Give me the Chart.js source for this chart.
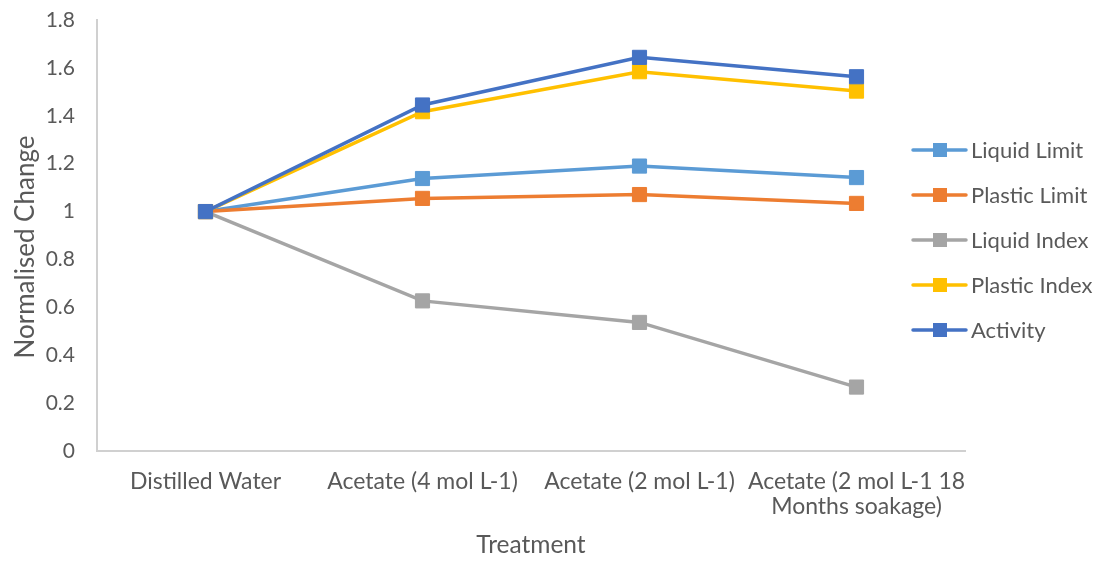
<!DOCTYPE html>
<html>
<head>
<meta charset="utf-8">
<title>Normalised Change by Treatment</title>
<script src="https://cdn.jsdelivr.net/npm/chart.js@4"></script>
<style>
  html, body { margin: 0; padding: 0; background: #ffffff; }
  #wrap { width: 1099px; height: 561px; position: relative; }
</style>
</head>
<body>
<div id="wrap"><canvas id="chart" width="1099" height="561"></canvas></div>
<script>
// Treatments along the x axis (the last one wraps onto two lines)
const categories = [
  'Distilled Water',
  'Acetate (4 mol L-1)',
  'Acetate (2 mol L-1)',
  ['Acetate (2 mol L-1 18', 'Months soakage)']
];

// Normalised values per soil property
const liquidLimit  = [1, 1.138, 1.190, 1.142];
const plasticLimit = [1, 1.055, 1.071, 1.034];
const liquidIndex  = [1, 0.627, 0.537, 0.267];
const plasticIndex = [1, 1.417, 1.584, 1.503];
const activity     = [1, 1.445, 1.644, 1.563];

const seriesNames = ['Liquid Limit', 'Plastic Limit', 'Liquid Index', 'Plastic Index', 'Activity'];
const yTickLabels = ['0', '0.2', '0.4', '0.6', '0.8', '1', '1.2', '1.4', '1.6', '1.8'];
const yTitle = 'Normalised Change';
const xTitle = 'Treatment';

const colors = ['#5B9BD5', '#ED7D31', '#A5A5A5', '#FFC000', '#4472C4'];
const FONT = 'Lato, "Liberation Sans", sans-serif';
const TEXT = '#595959';
const LINE_W = 3.5;

function makeSeries(name, data, i) {
  return {
    label: name,
    data: data,
    borderColor: colors[i],
    backgroundColor: colors[i],
    borderWidth: LINE_W,
    pointStyle: 'rect',
    pointRadius: 10,
    pointHoverRadius: 10,
    pointBorderWidth: 1,
    pointBorderColor: colors[i],
    pointBackgroundColor: colors[i],
    tension: 0,
    fill: false,
    order: 5 - i   // later series are painted on top
  };
}

// Legend on the right (short line with a square marker, then the name)
// and the rotated value-axis title on the left
const sideLegend = {
  id: 'sideLegend',
  afterDraw(chart) {
    const ctx = chart.ctx;
    ctx.save();
    ctx.font = '22px ' + FONT;
    ctx.textBaseline = 'middle';
    ctx.textAlign = 'left';
    chart.data.datasets.forEach((ds, i) => {
      const y = 150 + i * 45;
      ctx.strokeStyle = ds.borderColor;
      ctx.lineWidth = LINE_W;
      ctx.lineCap = 'round';
      ctx.beginPath();
      ctx.moveTo(913, y);
      ctx.lineTo(966, y);
      ctx.stroke();
      ctx.fillStyle = ds.backgroundColor;
      ctx.fillRect(933, y - 7, 14, 14);
      ctx.fillStyle = TEXT;
      ctx.fillText(ds.label, 971, y + 1);
    });

    ctx.translate(26, 247);
    ctx.rotate(-Math.PI / 2);
    ctx.font = '26px ' + FONT;
    ctx.textAlign = 'center';
    ctx.fillStyle = TEXT;
    ctx.fillText(yTitle, 0, 0);
    ctx.restore();
  }
};

function draw() {
  const ctx = document.getElementById('chart').getContext('2d');
  new Chart(ctx, {
    type: 'line',
    data: {
      labels: categories,
      datasets: [
        makeSeries(seriesNames[0], liquidLimit, 0),
        makeSeries(seriesNames[1], plasticLimit, 1),
        makeSeries(seriesNames[2], liquidIndex, 2),
        makeSeries(seriesNames[3], plasticIndex, 3),
        makeSeries(seriesNames[4], activity, 4)
      ]
    },
    options: {
      responsive: false,
      animation: false,
      devicePixelRatio: 1,
      layout: { padding: { top: 20, right: 134, bottom: 0, left: 0 } },
      plugins: {
        legend: { display: false },
        tooltip: { enabled: false }
      },
      scales: {
        x: {
          type: 'category',
          offset: true,
          grid: { display: false, drawTicks: false },
          border: { display: true, color: '#D0D0D0', width: 2 },
          ticks: {
            color: TEXT,
            padding: 18,
            maxRotation: 0,
            autoSkip: false,
            font: { family: FONT, size: 23, lineHeight: 1.09 }
          },
          title: {
            display: true,
            text: xTitle,
            color: TEXT,
            padding: { top: 0, bottom: 1 },
            font: { family: FONT, size: 24.5 }
          },
          afterFit(scale) { scale.height = 110; }
        },
        y: {
          min: 0,
          max: 1.8,
          grid: {
            display: true,
            drawOnChartArea: false,
            drawTicks: true,
            tickLength: 22,
            color: 'rgba(0,0,0,0)'
          },
          border: { display: true, color: '#D0D0D0', width: 2 },
          ticks: {
            stepSize: 0.2,
            color: TEXT,
            padding: 0,
            font: { family: FONT, size: 21 },
            callback: (value, index) => yTickLabels[index]
          },
          afterFit(scale) { scale.width = 97; }
        }
      }
    },
    plugins: [sideLegend]
  });
}

if (document.fonts && document.fonts.load) {
  Promise.all([document.fonts.load('20px Lato'), document.fonts.load('22px Lato')])
    .then(draw, draw);
} else {
  draw();
}
</script>
</body>
</html>
